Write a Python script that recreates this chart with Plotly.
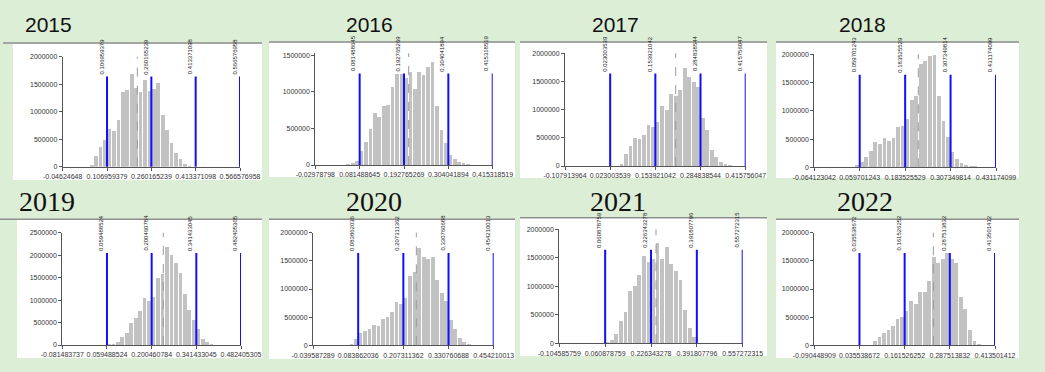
import plotly.graph_objects as go

W, H = 1045, 372

years = ["2015", "2016", "2017", "2018", "2019", "2020", "2021", "2022"]

# x-axis tick labels (min, then the four marker positions)
ticks_2015 = ["-0.04624648", "0.106959379", "0.260165239", "0.413371098", "0.566576958"]
ticks_2016 = ["-0.02978798", "0.081488645", "0.192765269", "0.304041894", "0.415318519"]
ticks_2017 = ["-0.107913964", "0.023003539", "0.153921042", "0.284838544", "0.415756047"]
ticks_2018 = ["-0.064123042", "0.059701243", "0.183525529", "0.307349814", "0.431174099"]
ticks_2019 = ["-0.081483737", "0.059488524", "0.200460784", "0.341433045", "0.482405305"]
ticks_2020 = ["-0.039587289", "0.083862036", "0.207311362", "0.330760688", "0.454210013"]
ticks_2021 = ["-0.104585759", "0.060878759", "0.226343278", "0.391807796", "0.557272315"]
ticks_2022 = ["-0.090448909", "0.035538672", "0.161526252", "0.287513832", "0.413501412"]

# histogram counts, 40 equal bins spanning the axis range
counts_2015 = [0, 0, 0, 0, 0, 0, 30000, 200000, 360000, 495000,
               683000, 652000, 854000, 1372000, 1402000, 1695000, 1433000, 1372000, 1573000, 1390000,
               1410000, 1520000, 950000, 680000, 430000, 260000, 140000, 50000, 15000, 0,
               0, 0, 0, 0, 0, 0, 0, 0, 0, 0]
counts_2016 = [0, 0, 0, 0, 0, 0, 0, 5000, 20000, 55000,
               182000, 314000, 486000, 705000, 655000, 800000, 818000, 1055000, 1236000, 1245000,
               1182000, 1268000, 1036000, 1270000, 1230000, 1330000, 1400000, 800000, 480000, 290000,
               130000, 80000, 40000, 15000, 5000, 0, 0, 0, 0, 0]
counts_2017 = [0, 0, 0, 0, 0, 0, 0, 0, 0, 0,
               0, 0, 20000, 200000, 350000, 500000, 470000, 550000, 720000, 680000,
               780000, 1060000, 990000, 1270000, 1230000, 1350000, 1740000, 1570000, 1480000, 1400000,
               850000, 630000, 280000, 160000, 60000, 20000, 5000, 0, 0, 0]
counts_2018 = [0, 0, 0, 0, 0, 0, 0, 0, 0, 20000,
               80000, 170000, 280000, 440000, 410000, 510000, 460000, 520000, 710000, 730000,
               850000, 1180000, 1250000, 1830000, 1880000, 1960000, 1990000, 1250000, 810000, 530000,
               270000, 140000, 70000, 20000, 10000, 5000, 0, 0, 0, 0]
counts_2019 = [0, 0, 0, 0, 0, 0, 0, 0, 0, 0,
               20000, 40000, 70000, 180000, 270000, 490000, 600000, 770000, 1060000, 990000,
               1080000, 1490000, 1580000, 2190000, 2010000, 1830000, 1610000, 1140000, 780000, 570000,
               360000, 150000, 70000, 10000, 0, 0, 0, 0, 0, 0]
counts_2020 = [0, 0, 0, 0, 0, 0, 0, 5000, 30000, 110000,
               220000, 260000, 300000, 370000, 340000, 470000, 510000, 590000, 780000, 740000,
               840000, 1230000, 1300000, 1730000, 1580000, 1530000, 1570000, 1170000, 930000, 800000,
               450000, 300000, 130000, 60000, 20000, 5000, 0, 0, 0, 0]
counts_2021 = [0, 0, 0, 0, 0, 0, 0, 0, 0, 0,
               5000, 50000, 160000, 380000, 540000, 910000, 1000000, 1190000, 1530000, 1420000,
               1480000, 1750000, 1480000, 1690000, 1390000, 1260000, 1110000, 580000, 270000, 110000,
               0, 0, 0, 0, 0, 0, 0, 0, 0, 0]
counts_2022 = [0, 0, 0, 0, 0, 0, 0, 0, 0, 0,
               0, 0, 10000, 80000, 150000, 230000, 280000, 350000, 480000, 510000,
               610000, 800000, 740000, 950000, 960000, 1140000, 1570000, 1460000, 1540000, 1640000,
               1530000, 1470000, 860000, 650000, 270000, 90000, 30000, 5000, 0, 0]

# mean (dashed line) per year
means = [0.2118, 0.2045, 0.2129, 0.2194, 0.2373, 0.2428, 0.2444, 0.2415]
# y-axis top per year
y_max = [2000000, 1525000, 2000000, 2000000, 2500000, 2000000, 2000000, 2000000]

all_ticks = [ticks_2015, ticks_2016, ticks_2017, ticks_2018, ticks_2019, ticks_2020, ticks_2021, ticks_2022]
all_counts = [counts_2015, counts_2016, counts_2017, counts_2018, counts_2019, counts_2020, counts_2021, counts_2022]

# ---- layout geometry (pixels) ----
geo = [
    dict(box=(13, 262, 44, 180), line=(3, 262, 43), ax=(62.7, 240), ay=(166.7, 56.7), title=(23, 25)),
    dict(box=(269, 515, 43, 177), line=(269, 515, 42), ax=(315.3, 492.7), ay=(165, 53.3), title=(344, 25)),
    dict(box=(520, 767, 43, 178), line=(520, 767, 42), ax=(565, 745.7), ay=(166, 53.3), title=(590, 25)),
    dict(box=(776, 1019, 43, 178), line=(776, 1019, 42), ax=(814.3, 996), ay=(167.3, 54.3), title=(837, 25)),
    dict(box=(17, 262, 220, 358), line=(0, 262, 219.3), ax=(62.3, 241), ay=(345, 232.7), title=(17, 201)),
    dict(box=(269, 515, 220, 359), line=(269, 515, 219.3), ax=(313, 493.7), ay=(345.3, 232.7), title=(344, 201)),
    dict(box=(520, 767, 218, 356), line=(520, 767, 217.7), ax=(559.3, 742.7), ay=(343.3, 229.3), title=(588, 201)),
    dict(box=(776, 1019, 220, 358), line=(776, 1019, 219.3), ax=(814.3, 995), ay=(345.3, 232.7), title=(835, 201)),
]

def px(x):
    return x / W

def py(y):
    return 1 - y / H

BG = "#ddeed6"
BAR = "#c2c2c2"
BLUE = "#1010ff"
AXC = "#555555"
TXT = "#333333"

fig = go.Figure()
shapes = []
annotations = []
layout_axes = {}

for i, yr in enumerate(years):
    n = i + 1
    xa = "x" if n == 1 else f"x{n}"
    ya = "y" if n == 1 else f"y{n}"
    g = geo[i]
    tick_vals = [float(t) for t in all_ticks[i]]
    lo, hi = tick_vals[0], tick_vals[-1]
    counts = all_counts[i]
    nb = len(counts)
    w = (hi - lo) / nb
    centers = [lo + (k + 0.5) * w for k in range(nb)]

    fig.add_trace(go.Bar(x=centers, y=counts, width=w * 0.82, marker=dict(color=BAR, line=dict(width=0)),
                         xaxis=xa, yaxis=ya, hoverinfo="skip"))

    # white panel and top rule
    x0, x1, y0, y1 = g["box"]
    shapes.append(dict(type="rect", xref="paper", yref="paper", x0=px(x0), x1=px(x1), y0=py(y1), y1=py(y0),
                       fillcolor="white", line=dict(width=0), layer="below"))
    lx0, lx1, ly = g["line"]
    shapes.append(dict(type="line", xref="paper", yref="paper", x0=px(lx0), x1=px(lx1), y0=py(ly), y1=py(ly),
                       line=dict(color="#8e8e8e", width=1.5), layer="above"))

    # axes
    ax0, ax1 = g["ax"]
    base, top = g["ay"]
    kx = "xaxis" if n == 1 else f"xaxis{n}"
    ky = "yaxis" if n == 1 else f"yaxis{n}"
    layout_axes[kx] = dict(domain=[px(ax0), px(ax1)], anchor=ya, range=[lo, hi], automargin=False,
                           tickvals=tick_vals, ticktext=all_ticks[i], tickangle=0,
                           showgrid=False, zeroline=False, showline=True, linecolor=AXC, linewidth=1,
                           ticks="outside", ticklen=3, tickcolor=AXC,
                           tickfont=dict(family="Arial, Liberation Sans", size=7, color=TXT))
    yvals = list(range(0, y_max[i] + 1, 500000))
    layout_axes[ky] = dict(domain=[py(base), py(top)], anchor=xa, range=[0, y_max[i]], automargin=False,
                           tickvals=yvals, ticktext=[str(v) for v in yvals],
                           showgrid=False, zeroline=False, showline=True, linecolor=AXC, linewidth=1,
                           ticks="outside", ticklen=3, tickcolor=AXC,
                           tickfont=dict(family="Arial, Liberation Sans", size=7, color=TXT))

    # marker lines + rotated labels
    for t, s in zip(tick_vals[1:], all_ticks[i][1:]):
        shapes.append(dict(type="line", xref=xa, yref=f"{ya} domain", x0=t, x1=t, y0=0, y1=0.82,
                           line=dict(color=BLUE, width=2), layer="above"))
        annotations.append(dict(x=t, y=0.82, xref=xa, yref=f"{ya} domain", text=s, textangle=-90,
                                showarrow=False, xanchor="right", yanchor="bottom", xshift=-1,
                                font=dict(family="Arial, Liberation Sans", size=6, color="#222222")))
    # mean dashed line
    shapes.append(dict(type="line", xref=xa, yref=f"{ya} domain", x0=means[i], x1=means[i], y0=0, y1=1,
                       line=dict(color="#9a9a9a", width=1, dash="dash"), layer="above"))

    # title
    tx, ty = g["title"]
    if i < 4:
        tfont = dict(family="Liberation Sans, Arial", size=21, color="#111111")
    else:
        tfont = dict(family="Liberation Serif, Times New Roman", size=28, color="#111111")
    annotations.append(dict(x=px(tx), y=py(ty), xref="paper", yref="paper", text=yr, showarrow=False,
                            xanchor="left", yanchor="middle", font=tfont))

fig.update_layout(width=W, height=H, margin=dict(l=0, r=0, t=0, b=0, pad=0, autoexpand=False),
                  paper_bgcolor=BG, plot_bgcolor="rgba(0,0,0,0)", showlegend=False,
                  bargap=0, shapes=shapes, annotations=annotations, **layout_axes)

fig.write_html("out.html", config={"displayModeBar": False},
               post_script="document.body.style.margin='0px';document.body.style.background='" + BG + "';")
